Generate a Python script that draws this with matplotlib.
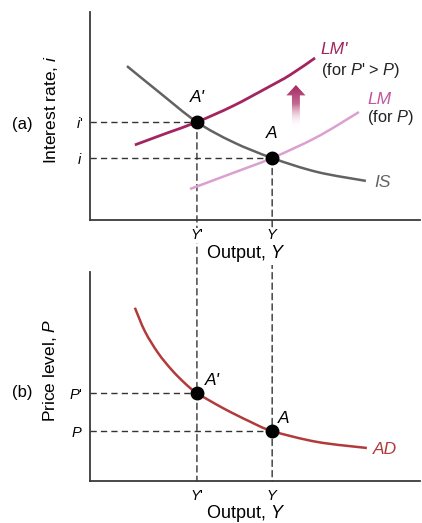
import numpy as np
import matplotlib
matplotlib.use("Agg")
import matplotlib.pyplot as plt
from matplotlib.patches import ConnectionPatch, FancyArrow, PathPatch
from matplotlib.path import Path
from matplotlib.colors import LinearSegmentedColormap

plt.rcParams['font.family'] = ['Liberation Sans', 'DejaVu Sans']
plt.rcParams['mathtext.fontset'] = 'custom'
plt.rcParams['mathtext.rm'] = 'Liberation Sans'
plt.rcParams['mathtext.it'] = 'Liberation Sans:italic'

# equilibrium levels
Y_prime, Y_eq = 3.24, 5.52
i_prime, i_eq = 4.71, 2.98
P_prime, P_eq = 4.21, 2.39

# IS-LM curves (output, interest rate)
is_x = [1.12, 2.12, 3.24, 4.33, 5.52, 6.88, 8.36]
is_y = [7.40, 6.11, 4.71, 3.75, 2.98, 2.31, 1.88]
lm2_x = [1.36, 2.33, 3.24, 4.33, 5.36, 6.06, 6.82]
lm2_y = [3.61, 4.18, 4.71, 5.48, 6.35, 6.97, 7.79]
lm_x = [3.03, 4.33, 5.52, 6.88, 8.15]
lm_y = [1.49, 2.26, 2.98, 3.99, 5.19]

# aggregate demand curve (output, price level)
ad_x = [1.36, 1.67, 2.07, 2.48, 2.88, 3.24, 4.04, 4.85, 5.52, 6.88, 8.39]
ad_y = [8.29, 7.14, 6.11, 5.31, 4.67, 4.21, 3.48, 2.84, 2.39, 1.87, 1.58]

# upward shift arrow (x, from, to)
shift_x, shift_from, shift_to = 6.24, 4.42, 6.49

IS_COL = '#626262'
LM2_COL = '#a3245f'
LM_COL = '#dba0cf'
LM_TXT = '#c2569c'
AD_COL = '#b23a3a'
AX_COL = '#3a3a3a'
DASH = dict(color='#333333', lw=1.0, dashes=(4.5, 3))


def curve(ax, xs, ys, color, lw):
    # smooth curve through the given points (Catmull-Rom as cubic Bezier)
    pts = np.column_stack([xs, ys])
    n = len(pts)
    verts, codes = [pts[0]], [Path.MOVETO]
    for k in range(n - 1):
        p0, p1 = pts[max(k - 1, 0)], pts[k]
        p2, p3 = pts[k + 1], pts[min(k + 2, n - 1)]
        verts += [p1 + (p2 - p0) / 6, p2 - (p3 - p1) / 6, p2]
        codes += [Path.CURVE4] * 3
    ax.add_patch(PathPatch(Path(verts, codes), facecolor='none', edgecolor=color,
                           lw=lw, capstyle='butt', zorder=3))


fig = plt.figure(figsize=(4.22, 5.23), dpi=100)
ax1 = fig.add_axes([90/422, 1-220/523, 330/422, 208/523])
ax2 = fig.add_axes([90/422, 1-481/523, 330/422, 209/523])
ax2.patch.set_visible(False)

for ax in (ax1, ax2):
    ax.set_xlim(0, 10)
    ax.set_ylim(0, 10)
    for s in ('top', 'right'):
        ax.spines[s].set_visible(False)
    for s in ('left', 'bottom'):
        ax.spines[s].set_color(AX_COL)
        ax.spines[s].set_linewidth(1.3)
    ax.tick_params(length=0, labelsize=10.5)
    ax.set_xticks([Y_prime, Y_eq])
    ax.set_xticklabels(["$Y$'", "$Y$"])
    ax.tick_params(axis='x', pad=6)
    ax.tick_params(axis='y', pad=5)
    for lab in ax.get_xticklabels() + ax.get_yticklabels():
        lab.set_bbox(dict(facecolor='white', edgecolor='none', pad=0.3))
    ax.set_xlabel("Output, $Y$", fontsize=13)
    ax.xaxis.label.set_va('center')
    ax.xaxis.label.set_bbox(dict(facecolor='white', edgecolor='none', pad=0.3))

ax1.xaxis.set_label_coords((246-90)/330, -(254-220)/208)
ax2.xaxis.set_label_coords((246-90)/330, -(514-481)/209)

# ---- (a) IS-LM panel ----
ax1.set_yticks([i_prime, i_eq])
ax1.set_yticklabels(["$i$'", "$i$"])
ax1.set_ylabel("Interest rate, $i$", fontsize=12.5)
ax1.yaxis.set_label_coords(-0.117, 0.53)
ax1.yaxis.label.set_va('center')

curve(ax1, is_x, is_y, IS_COL, 1.8)
curve(ax1, lm2_x, lm2_y, LM2_COL, 2.0)
curve(ax1, lm_x, lm_y, LM_COL, 1.8)

ax1.plot([0, Y_prime], [i_prime, i_prime], zorder=1, **DASH)
ax1.plot([0, Y_eq], [i_eq, i_eq], zorder=1, **DASH)
ax1.plot([Y_prime, Y_eq], [i_prime, i_eq], 'o', color='black', ms=9, zorder=5)

ax1.annotate("A'", (Y_prime, i_prime), xytext=(0, 12), textcoords='offset points',
             ha='center', va='bottom', fontsize=12.5, style='italic')
ax1.annotate("A", (Y_eq, i_eq), xytext=(0, 12), textcoords='offset points',
             ha='center', va='bottom', fontsize=12.5, style='italic')

ax1.annotate("LM'", (lm2_x[-1], lm2_y[-1]), xytext=(4, 6), textcoords='offset points',
             ha='left', va='center', fontsize=12.5, style='italic', color=LM2_COL)
ax1.annotate("(for $P$' > $P$)", (lm2_x[-1], lm2_y[-1]), xytext=(4, -9), textcoords='offset points',
             ha='left', va='center', fontsize=11.8, color='#222222')
ax1.annotate("LM", (lm_x[-1], lm_y[-1]), xytext=(6, 9), textcoords='offset points',
             ha='left', va='center', fontsize=12.5, style='italic', color=LM_TXT)
ax1.annotate("(for $P$)", (lm_x[-1], lm_y[-1]), xytext=(6, -4), textcoords='offset points',
             ha='left', va='center', fontsize=11.8, color='#222222')
ax1.annotate("IS", (is_x[-1], is_y[-1]), xytext=(6, -1), textcoords='offset points',
             ha='left', va='center', fontsize=12.5, style='italic', color=IS_COL)

# fading arrow for the LM shift
arrow = FancyArrow(shift_x, shift_from, 0, shift_to - shift_from, width=0.24,
                   head_width=0.58, head_length=0.5, length_includes_head=True,
                   facecolor='none', edgecolor='none')
ax1.add_patch(arrow)
fade = LinearSegmentedColormap.from_list(
    'fade', [(0.0, (1, 1, 1, 0)), (0.55, '#c46a92'), (1.0, LM2_COL)])
grad = np.linspace(0, 1, 100).reshape(-1, 1)
img = ax1.imshow(grad, cmap=fade, origin='lower', aspect='auto',
                 extent=[shift_x - 0.3, shift_x + 0.3, shift_from, shift_to], zorder=2)
img.set_clip_path(arrow)

# ---- (b) AD panel ----
ax2.set_yticks([P_prime, P_eq])
ax2.set_yticklabels(["$P$'", "$P$"])
ax2.set_ylabel("Price level, $P$", fontsize=12.5)
ax2.yaxis.set_label_coords(-0.12, 0.53)
ax2.yaxis.label.set_va('center')

curve(ax2, ad_x, ad_y, AD_COL, 1.8)
ax2.plot([0, Y_prime], [P_prime, P_prime], zorder=1, **DASH)
ax2.plot([0, Y_eq], [P_eq, P_eq], zorder=1, **DASH)
ax2.plot([Y_prime, Y_eq], [P_prime, P_eq], 'o', color='black', ms=9, zorder=5)

ax2.annotate("A'", (Y_prime, P_prime), xytext=(11, 9), textcoords='offset points',
             ha='center', va='center', fontsize=12.5, style='italic')
ax2.annotate("A", (Y_eq, P_eq), xytext=(8, 9), textcoords='offset points',
             ha='center', va='center', fontsize=12.5, style='italic')
ax2.annotate("AD", (ad_x[-1], ad_y[-1]), xytext=(4, -1), textcoords='offset points',
             ha='left', va='center', fontsize=12.5, style='italic', color=AD_COL)

# vertical guides running from the IS-LM points down to the output axis of (b)
for x, y in ((Y_prime, i_prime), (Y_eq, i_eq)):
    con = ConnectionPatch((x, y), (x, 0), coordsA=ax1.transData, coordsB=ax2.transData,
                          linestyle=(0, (4.5, 3)), color='#333333', lw=1.0, zorder=1)
    con.set_clip_on(False)
    ax1.add_artist(con)

fig.text(22/422, 1-125/523, "(a)", ha='center', va='center', fontsize=12)
fig.text(22/422, 1-392/523, "(b)", ha='center', va='center', fontsize=12)

fig.savefig("out.png", dpi=100)
